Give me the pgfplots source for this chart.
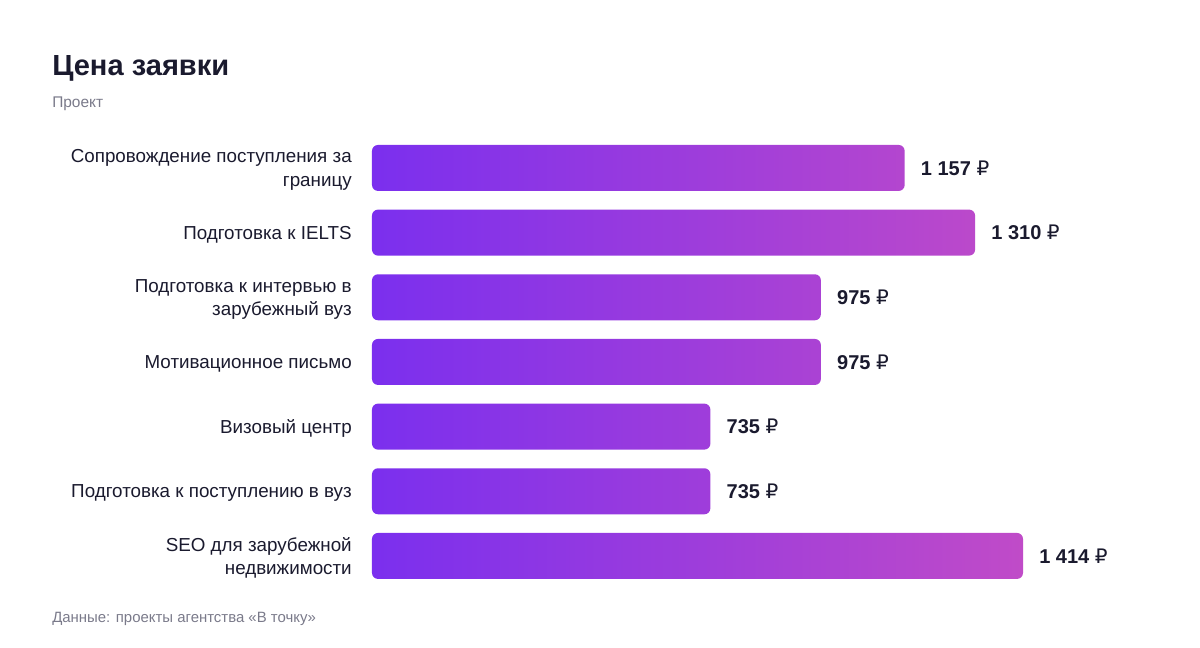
\documentclass[border=0pt]{standalone}
\usepackage{fontspec}
\setmainfont{Liberation Sans}
\newfontfamily\rub{DejaVu Sans}
\usepackage{pgfplots}
\pgfplotsset{compat=1.18}
\definecolor{ink}{HTML}{1A1A2E}
\definecolor{muted}{HTML}{7A7A8A}
\definecolor{barA}{HTML}{7B2FEE}
\definecolor{barB}{HTML}{C04BC8}

\begin{document}
\begin{tikzpicture}
\useasboundingbox (0,0) rectangle (900pt,-486pt);
\node[anchor=base west, inner sep=0pt, text=ink, font=\fontsize{21.8}{26}\selectfont\bfseries] at (39pt,-56.5pt) {Цена заявки};
\node[anchor=base west, inner sep=0pt, text=muted, font=\fontsize{11.6}{14}\selectfont] at (39pt,-81pt) {Проект};
\node[anchor=base west, inner sep=0pt, text=muted, font=\fontsize{11.2}{13.5}\selectfont] at (39pt,-466.5pt) {Данные: проекты агентства «В точку»};

\begin{axis}[
    at={(279pt,-441.2pt)}, anchor=south west,
    scale only axis,
    width=488.25pt, height=339.5pt,
    xmin=0, xmax=1414,
    ymin=-0.5, ymax=6.5,
    y dir=reverse,
    axis line style={draw=none},
    major tick length=0pt,
    xtick=\empty,
    ytick={0,...,6},
    yticklabels={
        {Сопровождение поступления за\\границу},
        {Подготовка к IELTS},
        {Подготовка к интервью в\\зарубежный вуз},
        {Мотивационное письмо},
        {Визовый центр},
        {Подготовка к поступлению в вуз},
        {SEO для зарубежной\\недвижимости}},
    yticklabel style={align=right, inner sep=0pt, xshift=-15pt, yshift=-1.5pt, text=ink,
        font=\fontsize{14.1}{17.6}\selectfont},
    xbar, bar width=34.5pt,
    nodes near coords={\pgfmathprintnumber[assume math mode=true,1000 sep={\ }]{\pgfplotspointmeta}~{\rub\mdseries ₽}},
    every node near coord/.append style={anchor=west, inner sep=0pt, xshift=12pt,
        text=ink, font=\fontsize{15}{18}\selectfont\bfseries},
    clip=false,
]
\addplot[draw=none, left color=barA, right color=barB, rounded corners=4.5pt] coordinates {
    (1157,0) (1310,1) (975,2) (975,3) (735,4) (735,5) (1414,6)
};
\end{axis}
\end{tikzpicture}
\end{document}
